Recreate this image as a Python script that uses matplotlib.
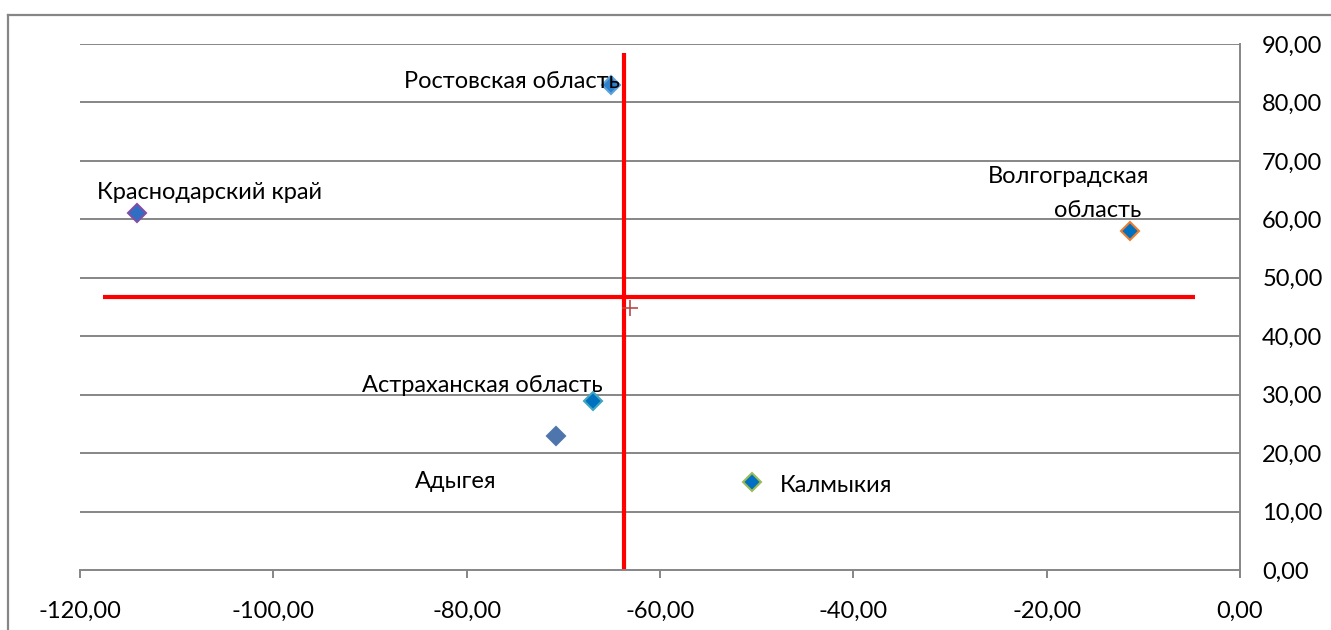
import matplotlib
matplotlib.use("Agg")
import matplotlib.pyplot as plt
from matplotlib.lines import Line2D
from matplotlib.ticker import FuncFormatter

plt.rcParams['font.family'] = ['Lato', 'DejaVu Sans']

# Data
regions = ["Краснодарский край", "Ростовская область", "Волгоградская область",
           "Астраханская область", "Адыгея", "Калмыкия"]
x_vals = [-114.1, -65.1, -11.4, -66.9, -70.8, -50.5]
y_vals = [61.0, 83.0, 58.0, 29.0, 23.0, 15.0]
face_colors = ["#2E6FC4", "#2E80CC", "#0070C0", "#0070C0", "#4F75AD", "#0070C0"]
edge_colors = ["#7F4FA8", "#5BA3DB", "#ED7D31", "#3FA8C0", "#4F75AD", "#9BBB59"]

# crosshair lines
v_line_x = -63.7
v_line_y = [0.0, 88.5]
h_line_y = 46.7
h_line_x = [-117.6, -4.7]

x_ticks = [-120, -100, -80, -60, -40, -20, 0]
y_ticks = [0, 10, 20, 30, 40, 50, 60, 70, 80, 90]

W, H = 1331, 630
fig = plt.figure(figsize=(W / 100, H / 100), dpi=100)
ax = fig.add_axes([80 / W, 1 - 570 / H, (1240 - 80) / W, (570 - 44) / H])

ax.set_xlim(-120, 0)
ax.set_ylim(0, 90)

gray = "#868686"
for yt in y_ticks[1:]:
    ax.axhline(yt, color=gray, lw=1.4, zorder=1)

ax.plot([v_line_x, v_line_x], v_line_y, color="#FF0000", lw=3, zorder=2, solid_capstyle='butt')
ax.plot(h_line_x, [h_line_y, h_line_y], color="#FF0000", lw=3, zorder=2, solid_capstyle='butt')

for x, y, fc, ec in zip(x_vals, y_vals, face_colors, edge_colors):
    ax.plot(x, y, marker='D', ms=9, mfc=fc, mec=ec, mew=1.5, ls='none', zorder=3)

# mean point
mx = sum(x_vals) / len(x_vals)
my = sum(y_vals) / len(y_vals)
ax.plot(mx, my, marker='+', ms=12, color="#B84A4A", mew=1.2, ls='none', zorder=4)

fs = 17
ax.text(-118.2, 64.6, regions[0], fontsize=fs, ha='left', va='center', zorder=5)
ax.text(-86.5, 83.6, regions[1], fontsize=fs, ha='left', va='center', zorder=5)
ax.text(-17.7, 67.3, "Волгоградская", fontsize=fs, ha='center', va='center', zorder=5)
ax.text(-14.7, 61.5, "область", fontsize=fs, ha='center', va='center', zorder=5)
ax.text(-90.8, 31.6, regions[3], fontsize=fs, ha='left', va='center', zorder=2.5)
ax.text(-85.3, 15.2, regions[4], fontsize=fs, ha='left', va='center', zorder=5)
ax.text(-47.6, 14.4, regions[5], fontsize=fs, ha='left', va='center', zorder=5)

# axes styling
for s in ['top', 'left']:
    ax.spines[s].set_visible(False)
ax.spines['bottom'].set_color(gray)
ax.spines['bottom'].set_linewidth(1.4)
ax.spines['right'].set_color(gray)
ax.spines['right'].set_linewidth(1.4)

ax.yaxis.tick_right()
ax.set_xticks(x_ticks)
ax.set_yticks(y_ticks)
fmt = FuncFormatter(lambda v, p: f"{v:.2f}".replace('.', ','))
ax.xaxis.set_major_formatter(fmt)
ax.yaxis.set_major_formatter(fmt)
ax.tick_params(axis='x', direction='out', length=6, width=1.4, color=gray,
               labelsize=fs, pad=16)
ax.tick_params(axis='y', direction='out', length=0, width=1.4, color=gray,
               labelsize=fs, pad=16, left=False, right=True)

# outer chart border
fig.add_artist(Line2D([8 / W, 8 / W], [0, 1 - 15 / H], color=gray, lw=1.6,
                      transform=fig.transFigure))
fig.add_artist(Line2D([8 / W, 1], [1 - 15 / H, 1 - 15 / H], color=gray, lw=1.6,
                      transform=fig.transFigure))

fig.savefig("out.png", dpi=100)
